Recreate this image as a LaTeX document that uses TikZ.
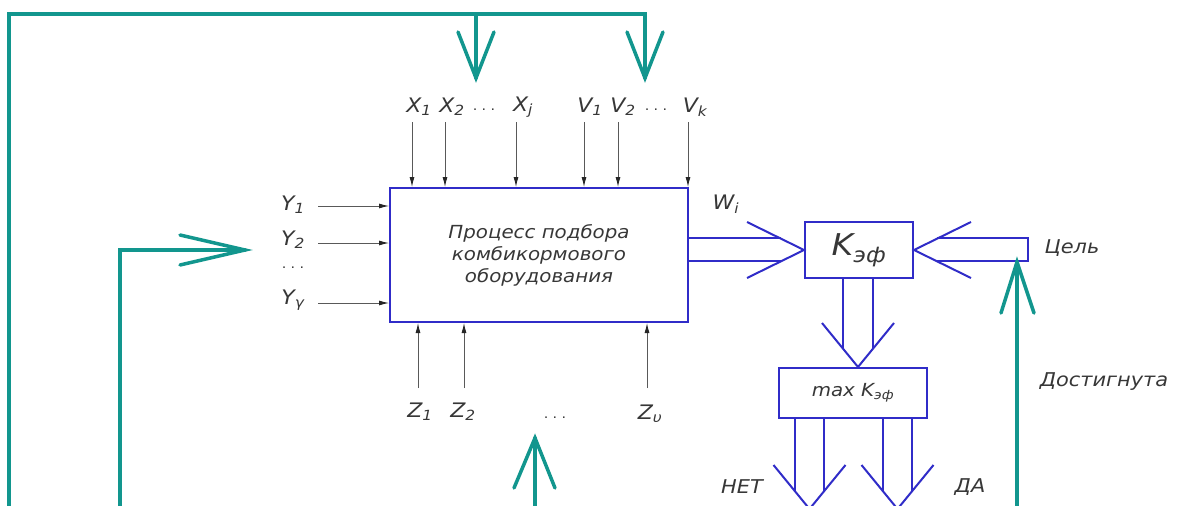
\documentclass[tikz,border=0pt]{standalone}
\usepackage{fontspec}
\setmainfont{DejaVu Sans}[FakeStretch=1.1]
\usetikzlibrary{calc,arrows.meta}
\definecolor{tealc}{RGB}{18,150,142}
\definecolor{bluc}{RGB}{48,44,200}
\definecolor{txtc}{RGB}{55,55,55}
\tikzset{
  tealline/.style={draw=tealc, line width=3.5pt, line cap=round, line join=miter},
  blueline/.style={draw=bluc, line width=2pt, line join=miter},
  blubox/.style={draw=bluc, line width=2pt, fill=white, inner sep=0pt, text=txtc},
  thinarr/.style={draw=black!65, line width=0.9pt, -{Latex[length=10pt,width=5pt,color=black!85,fill=black!85]}},
  lab/.style={text=txtc, font=\itshape\fontsize{20}{20}\selectfont, inner sep=0pt},
  labs/.style={text=txtc, font=\itshape\fontsize{19}{19}\selectfont, inner sep=0pt},
  dots/.style={text=txtc, font=\fontsize{13}{13}\selectfont, inner sep=0pt},
}
\begin{document}
\begin{tikzpicture}[x=1pt,y=-1pt]
\useasboundingbox (0,0) rectangle (1181,506);
\clip (0,0) rectangle (1181,506);

% ---------- boxes ----------
\node[blubox, minimum width=298pt, minimum height=134pt, align=center,
      font=\itshape\fontsize{18}{22}\selectfont] (proc) at (539,255)
      {Процесс подбора\\комбикормового\\оборудования};
\node[blubox, minimum width=108pt, minimum height=56pt,
      font=\itshape\fontsize{30}{30}\selectfont] (kef) at (859,250) {K\textsubscript{эф}};
\node[blubox, minimum width=148pt, minimum height=50pt,
      font=\itshape\fontsize{18}{18}\selectfont] (maxk) at (853,393) {max K\textsubscript{эф}};

% ---------- labels ----------
\node[lab] (x1) at (419,107) {X\textsubscript{1}};
\node[lab] (x2) at (452,107) {X\textsubscript{2}};
\node[dots] (xd) at (484,110) {.\,\,.\,\,.};
\node[lab] (xj) at (523,107) {X\textsubscript{j}};
\node[lab] (v1) at (590,107) {V\textsubscript{1}};
\node[lab] (v2) at (623,107) {V\textsubscript{2}};
\node[dots] (vd) at (656,110) {.\,\,.\,\,.};
\node[lab] (vk) at (695,107) {V\textsubscript{k}};

\node[lab] (y1) at (293,205) {Y\textsubscript{1}};
\node[lab] (y2) at (293,240) {Y\textsubscript{2}};
\node[dots] (yd) at (293,268) {.\,\,.\,\,.};
\node[lab] (yg) at (293,300) {Y\textsubscript{γ}};

\node[lab] (z1) at (420,412) {Z\textsubscript{1}};
\node[lab] (z2) at (463,412) {Z\textsubscript{2}};
\node[dots] (zd) at (555,418) {.\,\,.\,\,.};
\node[lab] (zu) at (650,414) {Z\textsubscript{υ}};

\node[lab] (wi) at (726,204) {W\textsubscript{i}};
\node[labs] (goal) at (1072,248) {Цель};
\node[labs] (dost) at (1104,382) {Достигнута};
\node[labs] (net) at (742,487) {НЕТ};
\node[labs] (da) at (970,487) {ДА};

% ---------- thin input arrows ----------
\foreach \n/\x in {a/412,b/445,c/516,d/584,e/618,f/688}{
  \coordinate (top\n) at (\x,122);
  \draw[thinarr] (top\n) -- (top\n |- proc.north);
}
\foreach \n/\y in {a/206,b/243,c/303}{
  \coordinate (lef\n) at (318,\y);
  \draw[thinarr] (lef\n) -- (lef\n -| proc.west);
}
\foreach \n/\x in {a/418,b/464,c/647}{
  \coordinate (bot\n) at (\x,388);
  \draw[thinarr] (bot\n) -- (bot\n |- proc.south);
}

% ---------- blue double arrows ----------
% W_i -> K
\draw[blueline] (proc.east |- 0,238) -- (781,238);
\draw[blueline] (proc.east |- 0,261) -- (781,261);
\draw[blueline] (747,222) -- (kef.west) -- (747,278);
% Goal -> K
\coordinate (gr) at (1028,238);
\draw[blueline] (937,238) -- (gr) -- (1028,261) -- (937,261);
\draw[blueline] (971,222) -- (kef.east) -- (971,278);
% K -> max
\coordinate (mtip) at ($(maxk.north)+(5,0)$);
\draw[blueline] (843,278) -- (843,349.3);
\draw[blueline] (873,278) -- (873,349.3);
\draw[blueline] (822,323) -- (mtip) -- (894,323);
% max -> NO / YES
\coordinate (ntip) at (809.5,509);
\coordinate (ytip) at (897.5,509);
\draw[blueline] (795,418) -- (795,491.3);
\draw[blueline] (824,418) -- (824,491.3);
\draw[blueline] (773.5,465) -- (ntip) -- (845.5,465);
\draw[blueline] (883,418) -- (883,491.3);
\draw[blueline] (912,418) -- (912,491.3);
\draw[blueline] (861.5,465) -- (ytip) -- (933.5,465);

% ---------- teal feedback lines ----------
\coordinate (tl) at (9,14);
\coordinate (bl) at (9,520);
\coordinate (ta1) at (476,78);
\coordinate (ta2) at (645,78);
\draw[tealline] (bl) -- (tl) -- (tl -| ta2) -- (ta2);
\draw[tealline] (tl -| ta1) -- (ta1);
\draw[tealline] ($(ta1)+(-18,-46)$) -- (ta1) -- ($(ta1)+(18,-46)$);
\draw[tealline] ($(ta2)+(-18,-46)$) -- (ta2) -- ($(ta2)+(18,-46)$);

\coordinate (yb) at (120,520);
\coordinate (ya) at (245,250);
\draw[tealline] (yb) -- (yb |- ya) -- (ya);
\draw[tealline] ($(ya)+(-65,-15)$) -- (ya) -- ($(ya)+(-65,15)$);

\coordinate (zb) at (535,520);
\coordinate (za) at (535,438);
\draw[tealline] (zb) -- (za);
\draw[tealline] ($(za)+(-21,50)$) -- (za) -- ($(za)+(20,50)$);

\coordinate (db) at (1017,520);
\coordinate (da1) at (1017,262);
\draw[tealline] (db) -- (da1);
\draw[tealline] ($(da1)+(-16,51)$) -- (da1) -- ($(da1)+(17,51)$);
\end{tikzpicture}
\end{document}
